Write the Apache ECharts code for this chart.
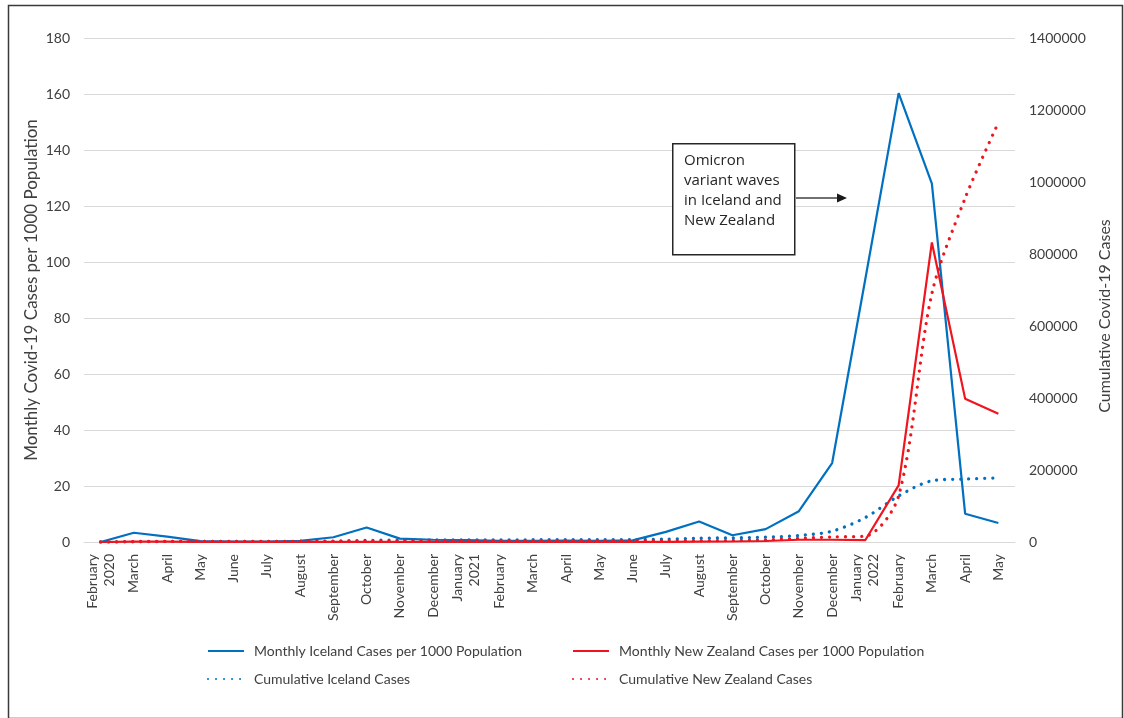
<!DOCTYPE html>
<html>
<head>
<meta charset="utf-8">
<script src="https://cdn.jsdelivr.net/npm/echarts@6/dist/echarts.min.js"></script>
<style>
html,body{margin:0;padding:0;background:#fff;}
#chart{width:1124px;height:718px;}
</style>
</head>
<body>
<div id="chart"></div>
<script>
const categories = ['February\n2020','March','April','May','June','July','August','September','October','November','December',
  'January\n2021','February','March','April','May','June','July','August','September','October','November','December',
  'January\n2022','February','March','April','May'];
const icelandMonthly = [0, 3.3, 1.9, 0.3, 0.1, 0.1, 0.4, 1.7, 5.2, 1.2, 0.8, 0.7, 0.4, 0.4, 0.5, 0.4, 0.6, 3.6, 7.3, 2.4, 4.6, 11, 28.2, 94, 160.3, 128, 10.1, 6.8];
const nzMonthly = [0, 0.13, 0.16, 0.01, 0.01, 0.02, 0.03, 0.03, 0.02, 0.02, 0.03, 0.03, 0.02, 0.02, 0.02, 0.01, 0.01, 0.02, 0.12, 0.17, 0.35, 0.8, 0.8, 0.7, 20.2, 107, 51.2, 45.8];
const icelandCumulative = [0, 1150, 1800, 1805, 1840, 1880, 2010, 2640, 4560, 5190, 5580, 6000, 6060, 6200, 6500, 6600, 6700, 7900, 10600, 11500, 13500, 18000, 30000, 68000, 128000, 170000, 175000, 178000];
const nzCumulative = [0, 650, 1480, 1500, 1530, 1570, 1740, 1830, 1920, 2010, 2160, 2300, 2370, 2500, 2610, 2660, 2770, 2830, 3450, 4230, 5950, 10000, 14000, 16500, 128000, 690000, 955000, 1165000];
const leftTicks = {min: 0, max: 180, interval: 20};
const rightTicks = {min: 0, max: 1400000, interval: 200000};

const seriesNames = ['Monthly Iceland Cases per 1000 Population','Monthly New Zealand Cases per 1000 Population','Cumulative Iceland Cases','Cumulative New Zealand Cases'];
const annotationLines = ['Omicron','variant waves','in Iceland and','New Zealand'];

const FONT = "Lato, 'Open Sans', sans-serif";
const TXT = '#404040';
const BLUE = '#0070C0';
const RED = '#F0141E';

const chart = echarts.init(document.getElementById('chart'), null, {renderer: 'canvas'});
const dotted = {type: [0.01, 8], cap: 'round', width: 3.3};

const option = {
  backgroundColor: '#ffffff',
  textStyle: {fontFamily: FONT, color: TXT},
  grid: {left: 84, right: 109, top: 38, bottom: 176, containLabel: false},
  legend: [
    {data: [seriesNames[0]], left: 207, top: 644},
    {data: [seriesNames[1]], left: 572, top: 644},
    {data: [seriesNames[2]], left: 207, top: 672},
    {data: [seriesNames[3]], left: 572, top: 672}
  ].map(l => Object.assign(l, {itemWidth: 36, itemHeight: 14, itemGap: 4, padding: 0,
      itemStyle: {opacity: 0},
      textStyle: {fontFamily: FONT, fontSize: 14, color: TXT, padding: [0, 0, 0, 5]}})),
  xAxis: {
    type: 'category', data: categories, boundaryGap: true,
    axisLine: {lineStyle: {color: '#D9D9D9', width: 1}},
    axisTick: {show: false},
    axisLabel: {rotate: 90, fontSize: 14, color: TXT, fontFamily: FONT, margin: 12, interval: 0, lineHeight: 17}
  },
  yAxis: [
    {
      type: 'value', min: leftTicks.min, max: leftTicks.max, interval: leftTicks.interval,
      name: 'Monthly Covid-19 Cases per 1000 Population', nameLocation: 'middle', nameGap: 44, nameMoveOverlap: false,
      nameTextStyle: {fontSize: 17, color: TXT, fontFamily: FONT},
      axisLine: {show: false}, axisTick: {show: false},
      axisLabel: {fontSize: 14, color: TXT, fontFamily: FONT, margin: 14},
      splitLine: {lineStyle: {color: '#D9D9D9', width: 1}}
    },
    {
      type: 'value', min: rightTicks.min, max: rightTicks.max, interval: rightTicks.interval, position: 'right',
      name: 'Cumulative Covid-19 Cases', nameLocation: 'middle', nameGap: 80,
      nameTextStyle: {fontSize: 16, color: TXT, fontFamily: FONT, padding: [0, 52, 0, 0]},
      axisLine: {show: false}, axisTick: {show: false},
      axisLabel: {fontSize: 14, color: TXT, fontFamily: FONT, margin: 14, formatter: v => String(v)},
      splitLine: {show: false}
    }
  ],
  series: [
    {name: seriesNames[0], type: 'line', yAxisIndex: 0, data: icelandMonthly, symbol: 'none', color: BLUE, lineStyle: {color: BLUE, width: 2.2}, z: 3},
    {name: seriesNames[1], type: 'line', yAxisIndex: 0, data: nzMonthly, symbol: 'none', color: RED, lineStyle: {color: RED, width: 2.2}, z: 4},
    {name: seriesNames[2], type: 'line', yAxisIndex: 1, data: icelandCumulative, symbol: 'none', smooth: 0.3, color: BLUE, lineStyle: Object.assign({color: BLUE}, dotted), z: 2},
    {name: seriesNames[3], type: 'line', yAxisIndex: 1, data: nzCumulative, symbol: 'none', smooth: 0.3, color: RED, lineStyle: Object.assign({color: RED}, dotted), z: 5}
  ],
  graphic: [
    {type: 'rect', left: 6, top: 3, shape: {x: 0, y: 0, width: 1114, height: 713}, style: {fill: 'none', stroke: '#3a3a3a', lineWidth: 1.5}, silent: true, z: 0},
    {type: 'rect', left: 672, top: 143, shape: {x: 0, y: 0, width: 122, height: 111}, style: {fill: '#ffffff', stroke: '#262626', lineWidth: 1.5}, z: 10},
    {type: 'text', left: 684, top: 151, style: {text: annotationLines.join('\n'), font: "15px 'Open Sans', sans-serif", fill: '#262626', lineHeight: 20}, z: 11},
    {type: 'line', shape: {x1: 796, y1: 198, x2: 838, y2: 198}, style: {stroke: '#404040', lineWidth: 1.3}, z: 11},
    {type: 'polygon', shape: {points: [[837, 193.5], [847, 198], [837, 202.5]]}, style: {fill: '#1a1a1a'}, z: 11}
  ]
};
chart.setOption(option);
</script>
</body>
</html>
